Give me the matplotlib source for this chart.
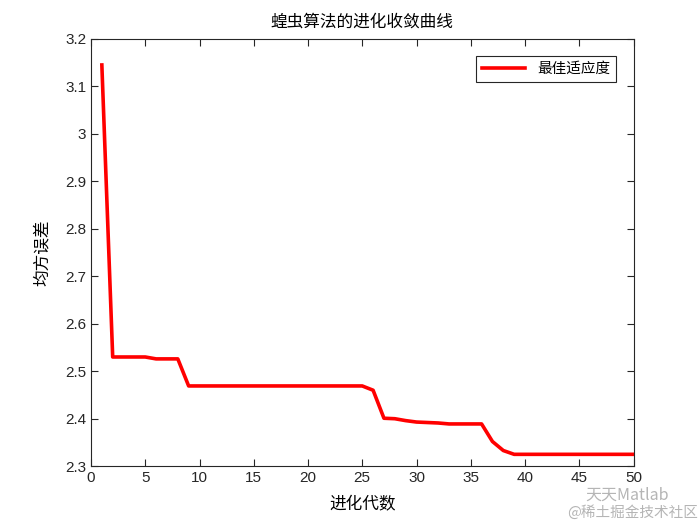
import matplotlib
matplotlib.use('Agg')
import matplotlib.pyplot as plt
import numpy as np

plt.rcParams['font.family'] = ['Liberation Sans', 'Noto Sans CJK SC', 'DejaVu Sans']

# convergence curve
gen = np.arange(1, 51)
best = [3.145, 2.530, 2.530, 2.530, 2.530, 2.526, 2.526, 2.526, 2.469, 2.469,
        2.469, 2.469, 2.469, 2.469, 2.469, 2.469, 2.469, 2.469, 2.469, 2.469,
        2.469, 2.469, 2.469, 2.469, 2.469, 2.460, 2.401, 2.400, 2.396, 2.393,
        2.392, 2.391, 2.389, 2.389, 2.389, 2.389, 2.352, 2.333, 2.325, 2.325,
        2.325, 2.325, 2.325, 2.325, 2.325, 2.325, 2.325, 2.325, 2.325, 2.325]

title = '蝗虫算法的进化收敛曲线'
xlab = '进化代数'
ylab = '均方误差'
leg = '最佳适应度'

cjk = ['Noto Sans CJK SC', 'DejaVu Sans']

fig = plt.figure(figsize=(7, 5.25), dpi=100)
ax = fig.add_axes([0.13, 0.112, 0.775, 0.814])
ax.plot(gen, best, color='#ff0000', lw=2.6, label=leg)

ax.set_xlim(0, 50)
ax.set_ylim(2.3, 3.2)
ax.set_xticks(np.arange(0, 51, 5))
ax.set_yticks(np.arange(2.3, 3.21, 0.1))
ax.set_yticklabels(['2.3', '2.4', '2.5', '2.6', '2.7', '2.8', '2.9', '3', '3.1', '3.2'])
ax.tick_params(direction='in', top=True, right=True, labelsize=11, length=5, width=0.8, colors='#262626')
for s in ax.spines.values():
    s.set_linewidth(0.8)
    s.set_color('#262626')

ax.set_title(title, family=cjk, fontsize=12, color='#000000', pad=9)
ax.set_xlabel(xlab, family=cjk, fontsize=12, labelpad=8)
ax.set_ylabel(ylab, family=cjk, fontsize=12, labelpad=10)

lg = ax.legend(loc='upper right', prop={'family': cjk, 'size': 10.5}, fancybox=False,
               edgecolor='#262626', framealpha=1, handlelength=3, borderaxespad=1.2)
lg.get_frame().set_linewidth(0.8)

# watermark
fig.text(0.955, 0.057, '天天Matlab', ha='right', va='center', fontsize=11.5, color='#b5b5b5', family=cjk)
fig.text(0.997, 0.023, '@稀土掘金技术社区', ha='right', va='center', fontsize=10.5, color='#b5b5b5', family=cjk)

fig.savefig('out.png', dpi=100)
